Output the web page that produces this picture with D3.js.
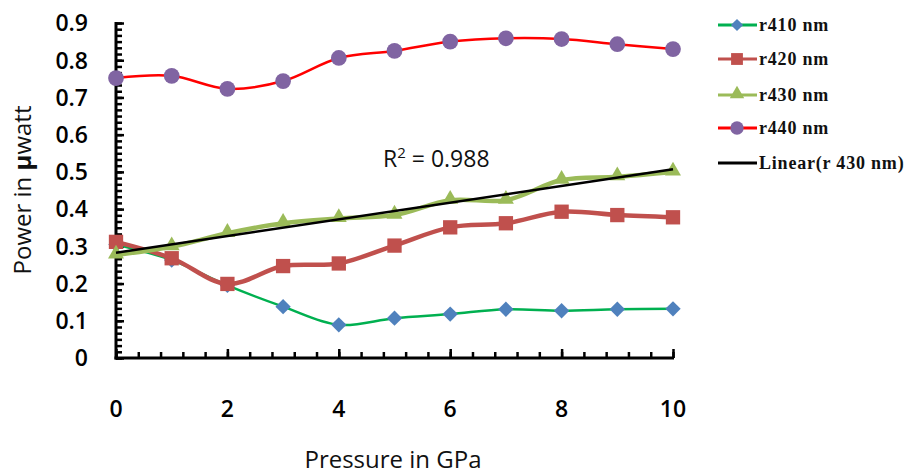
<!DOCTYPE html>
<html>
<head>
<meta charset="utf-8">
<script src="https://cdn.jsdelivr.net/npm/d3@7"></script>
<style>
  html, body { margin: 0; padding: 0; background: #fff; }
  svg { display: block; }
</style>
</head>
<body>
<svg id="chart" width="904" height="475"></svg>
<script>
// ---- data ----
const pressure = [0, 1, 2, 3, 4, 5, 6, 7, 8, 9, 10];
const r410 = [0.305, 0.263, 0.195, 0.138, 0.089, 0.107, 0.118, 0.131, 0.127, 0.131, 0.132];
const r420 = [0.312, 0.268, 0.199, 0.247, 0.254, 0.302, 0.351, 0.362, 0.393, 0.384, 0.378];
const r430 = [0.277, 0.299, 0.335, 0.362, 0.375, 0.384, 0.424, 0.424, 0.478, 0.487, 0.500];
const r440 = [0.752, 0.758, 0.723, 0.744, 0.806, 0.825, 0.850, 0.859, 0.857, 0.843, 0.830];
const seriesNames = ["r410 nm", "r420 nm", "r430 nm", "r440 nm"];
const trendName = "Linear(r 430 nm)";
const r2Label = "0.988";
const xTickLabels = [0, 2, 4, 6, 8, 10];
const yTickLabels = [0, 0.1, 0.2, 0.3, 0.4, 0.5, 0.6, 0.7, 0.8, 0.9];

const svg = d3.select("#chart");
const x = d3.scaleLinear().domain([0, 10]).range([116, 673]);
const y = d3.scaleLinear().domain([0, 0.9]).range([358, 23]);

const series = [
  { name: seriesNames[0], values: r410, line: "#00B050", fill: "#4F81BD", width: 2.5, symbol: "diamond" },
  { name: seriesNames[1], values: r420, line: "#C0504D", fill: "#C0504D", width: 4.5, symbol: "square" },
  { name: seriesNames[2], values: r430, line: "#9BBB59", fill: "#9BBB59", width: 4.5, symbol: "triangle" },
  { name: seriesNames[3], values: r440, line: "#FF0000", fill: "#8064A2", width: 2.5, symbol: "circle" }
];

function symbolPath(kind) {
  if (kind === "diamond") return d3.symbol().type(d3.symbolSquare).size(118)();
  if (kind === "square") return d3.symbol().type(d3.symbolSquare).size(205)();
  if (kind === "triangle") return d3.symbol().type(d3.symbolTriangle).size(110)();
  return d3.symbol().type(d3.symbolCircle).size(195)();
}
function symbolTransform(kind, px, py) {
  if (kind === "diamond") return `translate(${px},${py}) rotate(45)`;
  if (kind === "triangle") return `translate(${px},${py - 1})`;
  return `translate(${px},${py})`;
}

// ---- axes ----
const axisG = svg.append("g");
const yMinor = d3.range(0, 55).map(i => i / 60);
const yAxis = d3.axisRight(y).tickValues(yMinor).tickSize(6).tickFormat("");
axisG.append("g").attr("transform", `translate(${x(0)},0)`).call(yAxis)
  .call(g => g.select(".domain").remove())
  .call(g => g.selectAll("line").attr("stroke", "#000").attr("stroke-width", 2.5));
const yMajor = d3.axisRight(y).tickValues(yTickLabels).tickSize(8).tickFormat("");
axisG.append("g").attr("transform", `translate(${x(0)},0)`).call(yMajor)
  .call(g => g.select(".domain").remove())
  .call(g => g.selectAll("line").attr("stroke", "#000").attr("stroke-width", 2.5));
const xMinor = d3.range(0, 26).map(i => i * 0.4);
const xAxisMinor = d3.axisTop(x).tickValues(xMinor).tickSize(6).tickFormat("");
axisG.append("g").attr("transform", `translate(0,${y(0)})`).call(xAxisMinor)
  .call(g => g.select(".domain").remove())
  .call(g => g.selectAll("line").attr("stroke", "#000").attr("stroke-width", 2.5));
const xAxisMajor = d3.axisTop(x).tickValues(xTickLabels).tickSize(9).tickFormat("");
axisG.append("g").attr("transform", `translate(0,${y(0)})`).call(xAxisMajor)
  .call(g => g.select(".domain").remove())
  .call(g => g.selectAll("line").attr("stroke", "#000").attr("stroke-width", 2.5));
axisG.append("line").attr("x1", x(0)).attr("x2", x(0)).attr("y1", y(0.9) - 1).attr("y2", y(0) + 1.5)
  .attr("stroke", "#000").attr("stroke-width", 3);
axisG.append("line").attr("x1", x(0) - 1.5).attr("x2", x(10) + 1).attr("y1", y(0)).attr("y2", y(0))
  .attr("stroke", "#000").attr("stroke-width", 3);

// tick labels
svg.append("g").selectAll("text").data(yTickLabels).join("text")
  .attr("x", 88).attr("y", d => y(d)).attr("dy", "0.36em")
  .attr("text-anchor", "end")
  .attr("font-family", "'Open Sans', sans-serif").attr("font-size", 23).attr("font-weight", 600)
  .attr("fill", "#000")
  .text(d => d === 0 ? "0" : d3.format(".1f")(d));
svg.append("g").selectAll("text").data(xTickLabels).join("text")
  .attr("x", d => x(d)).attr("y", 417)
  .attr("text-anchor", "middle")
  .attr("font-family", "'Open Sans', sans-serif").attr("font-size", 23).attr("font-weight", 600)
  .attr("fill", "#000")
  .text(d => d);

// axis titles
svg.append("text").attr("x", 393).attr("y", 468).attr("text-anchor", "middle")
  .attr("font-family", "'Open Sans', sans-serif").attr("font-size", 24).attr("fill", "#111")
  .text("Pressure in GPa");
const yt = svg.append("text").attr("transform", "translate(31,190) rotate(-90)").attr("text-anchor", "middle")
  .attr("font-family", "'Open Sans', sans-serif").attr("font-size", 24).attr("fill", "#111");
yt.append("tspan").text("Power in ");
yt.append("tspan").attr("font-weight", 700).text("µ");
yt.append("tspan").text("watt");

// ---- series ----
const line = d3.line().x((d, i) => x(pressure[i])).y(d => y(d)).curve(d3.curveCatmullRom.alpha(0.5));
series.forEach(s => {
  const g = svg.append("g");
  g.append("path").attr("d", line(s.values)).attr("fill", "none")
    .attr("stroke", s.line).attr("stroke-width", s.width).attr("stroke-linejoin", "round");
  g.selectAll("path.m").data(s.values).join("path").attr("class", "m")
    .attr("d", symbolPath(s.symbol))
    .attr("transform", (d, i) => symbolTransform(s.symbol, x(pressure[i]), y(d)))
    .attr("fill", s.fill);
});

// ---- linear trend of r430 ----
const mx = d3.mean(pressure), my = d3.mean(r430);
const slope = d3.sum(pressure.map((p, i) => (p - mx) * (r430[i] - my))) / d3.sum(pressure.map(p => (p - mx) ** 2));
const intercept = my - slope * mx;
svg.append("line")
  .attr("x1", x(0)).attr("y1", y(intercept))
  .attr("x2", x(10)).attr("y2", y(intercept + slope * 10))
  .attr("stroke", "#000").attr("stroke-width", 2.5);

// R² label
const r2 = svg.append("text").attr("x", 383).attr("y", 167)
  .attr("font-family", "'Open Sans', sans-serif").attr("font-size", 23).attr("fill", "#111");
r2.append("tspan").text("R");
r2.append("tspan").attr("font-size", 15).attr("dy", -9).text("2");
r2.append("tspan").attr("dy", 9).text(" = " + r2Label);

// ---- legend ----
const legendY = [25, 59, 95, 128, 163];
const legendItems = series.concat([{ name: trendName, line: "#000", width: 3, symbol: null }]);
const lg = svg.append("g");
legendItems.forEach((s, i) => {
  const gy = legendY[i];
  lg.append("line").attr("x1", 718).attr("x2", 757).attr("y1", gy).attr("y2", gy)
    .attr("stroke", s.line).attr("stroke-width", 3);
  if (s.symbol) {
    const sz = { diamond: 75, square: 140, triangle: 90, circle: 140 }[s.symbol];
    const type = { diamond: d3.symbolSquare, square: d3.symbolSquare, triangle: d3.symbolTriangle, circle: d3.symbolCircle }[s.symbol];
    lg.append("path").attr("d", d3.symbol().type(type).size(sz)()).attr("fill", s.fill)
      .attr("transform", symbolTransform(s.symbol, 737, gy));
  }
  lg.append("text").attr("x", 759).attr("y", gy + 6)
    .attr("font-family", "'Liberation Serif', 'DejaVu Serif', serif").attr("font-size", 18).attr("font-weight", 700)
    .attr("letter-spacing", 0.8)
    .attr("fill", "#111")
    .text(s.name);
});
</script>
</body>
</html>
